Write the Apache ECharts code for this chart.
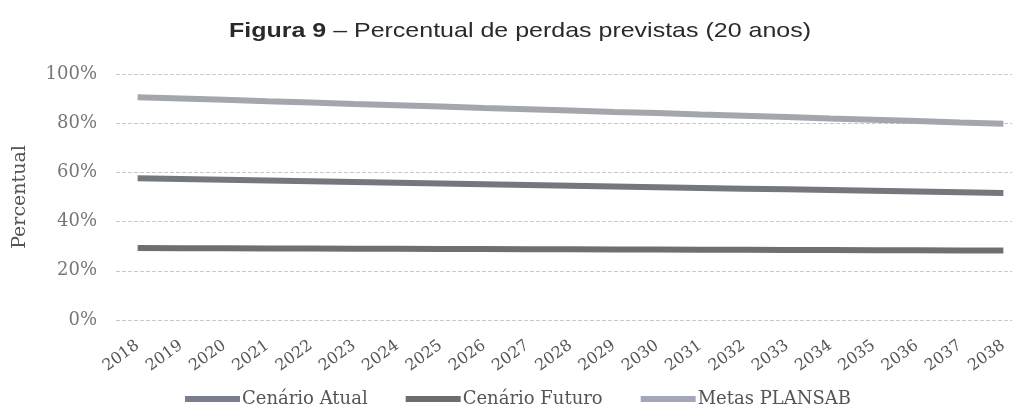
<!DOCTYPE html>
<html><head><meta charset="utf-8">
<script src="https://cdn.jsdelivr.net/npm/echarts@6/dist/echarts.min.js"></script>
<style>html,body{margin:0;padding:0;background:#fff}#c{width:1012px;height:407px}</style>
</head><body><div id="c"></div>
<script>
const years = ['2018','2019','2020','2021','2022','2023','2024','2025','2026','2027','2028','2029','2030','2031','2032','2033','2034','2035','2036','2037','2038'];
const metasPlansab = [90.5,90,89.5,88.9,88.4,87.8,87.3,86.8,86.2,85.7,85.2,84.6,84.1,83.5,83,82.5,81.9,81.4,80.9,80.3,79.8];
const cenarioAtual = [57.6,57.3,57,56.7,56.4,56.1,55.8,55.5,55.2,54.9,54.6,54.3,54,53.7,53.4,53.1,52.8,52.5,52.2,51.9,51.6];
const cenarioFuturo = [29.3,29.2,29.2,29.1,29.1,29,29,28.9,28.9,28.8,28.8,28.7,28.7,28.6,28.6,28.5,28.5,28.4,28.4,28.3,28.3];
const yTicks = [0,20,40,60,80,100];

const serif = 'DejaVu Serif';
const chart = echarts.init(document.getElementById('c'));
chart.setOption({
  animation:false,
  backgroundColor:'#fff',
  graphic:[{
    type:'text', x:520, y:31, scaleX:1.19, z:10,
    style:{
      text:'{b|Figura 9} – Percentual de perdas previstas (20 anos)',
      font:'normal 21px "Liberation Sans"', fill:'#2a2a2a',
      align:'center', verticalAlign:'middle',
      rich:{b:{font:'bold 21px "Liberation Sans"', fill:'#2a2a2a'}}
    }
  }],
  grid:{left:116,right:-13,top:74,bottom:87,containLabel:false,outerBoundsMode:'none'},
  legend:{
    top:385, left:180, itemGap:38, itemWidth:55, itemHeight:6, icon:'rect',
    textStyle:{fontFamily:serif,fontSize:18,color:'#555',padding:[0,0,0,-3]},
    data:['Cenário Atual','Cenário Futuro','Metas PLANSAB']
  },
  xAxis:{
    type:'category', data:years, boundaryGap:true,
    axisLine:{show:false}, axisTick:{show:false},
    axisLabel:{rotate:36,fontFamily:serif,fontSize:16,color:'#555',margin:24,interval:0}
  },
  yAxis:{
    type:'value', min:0, max:100, interval:20,
    name:'Percentual', nameLocation:'middle', nameGap:86,
    nameTextStyle:{fontFamily:serif,fontSize:19,color:'#555'},
    axisLabel:{formatter:v=>v+'%',fontFamily:serif,fontSize:18,color:'#777',margin:19},
    splitLine:{lineStyle:{color:'#c8c8c8',type:'dashed',width:1}},
    axisLine:{show:false}, axisTick:{show:false}
  },
  series:[
    {name:'Cenário Atual',type:'line',data:cenarioAtual,showSymbol:false,symbol:'none',
     lineStyle:{width:6,color:'#74777e'},itemStyle:{color:'#7a7d8c'}},
    {name:'Cenário Futuro',type:'line',data:cenarioFuturo,showSymbol:false,symbol:'none',
     lineStyle:{width:6,color:'#6e7070'},itemStyle:{color:'#6c6e6e'}},
    {name:'Metas PLANSAB',type:'line',data:metasPlansab,showSymbol:false,symbol:'none',
     lineStyle:{width:6,color:'#a4a6ad'},itemStyle:{color:'#a3a7bb'}}
  ]
});
</script></body></html>
